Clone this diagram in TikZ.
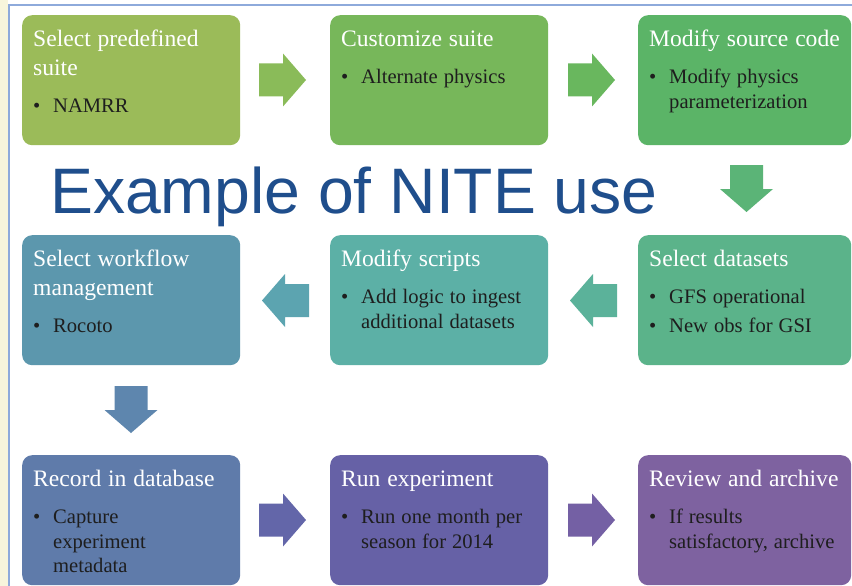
\documentclass[tikz,border=0pt]{standalone}
\usepackage{fontspec}
\setmainfont{Liberation Serif}
\newfontfamily\titlefont{Liberation Sans}
\definecolor{cA}{HTML}{9BBB59}
\definecolor{cB}{HTML}{77B75A}
\definecolor{cC}{HTML}{5BB467}
\definecolor{cF}{HTML}{5BB38A}
\definecolor{cE}{HTML}{5CB0A6}
\definecolor{cD}{HTML}{5C97AD}
\definecolor{cG}{HTML}{5F7BAA}
\definecolor{cH}{HTML}{6661A6}
\definecolor{cI}{HTML}{7E62A0}
\definecolor{aAB}{HTML}{8ABB59}
\definecolor{aBC}{HTML}{69B75E}
\definecolor{aCF}{HTML}{5BB477}
\definecolor{aFE}{HTML}{5BB29A}
\definecolor{aED}{HTML}{5CA4B0}
\definecolor{aDG}{HTML}{5E86AE}
\definecolor{aGH}{HTML}{6366A9}
\definecolor{aHI}{HTML}{7460A4}
\definecolor{titleblue}{HTML}{1F4E8C}
\definecolor{cream}{HTML}{F7F5DC}
\definecolor{frameblue}{HTML}{8EAADB}
\definecolor{bodytext}{HTML}{1E1E1E}
\newcommand{\hd}[1]{{\fontsize{23.6}{29}\selectfont\spaceskip=0.29em\relax\color{white}\rule{0pt}{20pt}#1\par}}
\newcommand{\bi}[2][13pt]{\vspace{#1}{\fontsize{20.6}{24.5}\selectfont\spaceskip=0.29em\relax\color{bodytext}\hangindent=20pt\hangafter=1\noindent\makebox[20pt][l]{\textbullet}#2\par}}
\tikzset{
  box/.style={rounded corners=10pt, inner sep=0pt, anchor=north west, minimum height=130pt, minimum width=218pt},
  txt/.style={anchor=north west, inner sep=0pt, text width=205pt, execute at begin node={\parindent=0pt\parskip=0pt\raggedright}},
  barrow/.pic={\fill[pic actions] (-24,-16.5) -- (0,-16.5) -- (0,-26.5) -- (23,0) -- (0,26.5) -- (0,16.5) -- (-24,16.5) -- cycle;}
}
\begin{document}
\begin{tikzpicture}[x=1pt,y=-1pt]
\useasboundingbox (0,0) rectangle (852,586);
\fill[white] (0,0) rectangle (852,586);
\fill[cream] (0,0) rectangle (8,586);
\draw[frameblue, line width=2pt] (9,586) -- (9,5.5) -- (852,5.5);
% boxes
\node[box, fill=cA] (b1) at (22,15) {};
\node[box, fill=cB] (b2) at (330,15) {};
\node[box, fill=cC, minimum width=213pt] (b3) at (638,15) {};
\node[box, fill=cD] (b4) at (22,235) {};
\node[box, fill=cE] (b5) at (330,235) {};
\node[box, fill=cF, minimum width=213pt] (b6) at (638,235) {};
\node[box, fill=cG] (b7) at (22,455) {};
\node[box, fill=cH] (b8) at (330,455) {};
\node[box, fill=cI, minimum width=213pt] (b9) at (638,455) {};
% texts
\node[txt] (t1) at ([shift={(11pt,-11pt)}]b1.north west) {\hd{Select predefined\newline suite}\bi{NAMRR}};
\node[txt] (t2) at ([shift={(11pt,-11pt)}]b2.north west) {\hd{Customize suite}\bi{Alternate physics}};
\node[txt] (t3) at ([shift={(11pt,-11pt)}]b3.north west) {\hd{Modify source code}\bi{Modify physics\newline parameterization}};
\node[txt] (t4) at ([shift={(11pt,-11pt)}]b4.north west) {\hd{Select workflow\newline management}\bi{Rocoto}};
\node[txt] (t5) at ([shift={(11pt,-11pt)}]b5.north west) {\hd{Modify scripts}\bi{Add logic to ingest\newline additional datasets}};
\node[txt] (t6) at ([shift={(11pt,-11pt)}]b6.north west) {\hd{Select datasets}\bi{GFS operational}\bi[4pt]{New obs for GSI}};
\node[txt] (t7) at ([shift={(11pt,-11pt)}]b7.north west) {\hd{Record in database}\bi{Capture\newline experiment\newline metadata}};
\node[txt] (t8) at ([shift={(11pt,-11pt)}]b8.north west) {\hd{Run experiment}\bi{Run one month per\newline season for 2014}};
\node[txt] (t9) at ([shift={(11pt,-11pt)}]b9.north west) {\hd{Review and archive}\bi{If results\newline satisfactory, archive}};
% block arrows
\pic[fill=aAB] (a12) at (283,80) {barrow};
\pic[fill=aBC] (a23) at (592,80) {barrow};
\pic[fill=aCF, rotate=-90] (a36) at (746.5,189) {barrow};
\pic[fill=aFE, rotate=180] (a65) at (593,300.5) {barrow};
\pic[fill=aED, rotate=180] (a54) at (285,300.5) {barrow};
\pic[fill=aDG, rotate=-90] (a47) at (131,410) {barrow};
\pic[fill=aGH] (a78) at (283,520) {barrow};
\pic[fill=aHI] (a89) at (592,520) {barrow};
% title
\node[anchor=base west, inner sep=0pt, text=titleblue, font=\titlefont\fontsize{64.3}{70}\selectfont] (title) at (50,213) {Example of NITE use};
\end{tikzpicture}
\end{document}
